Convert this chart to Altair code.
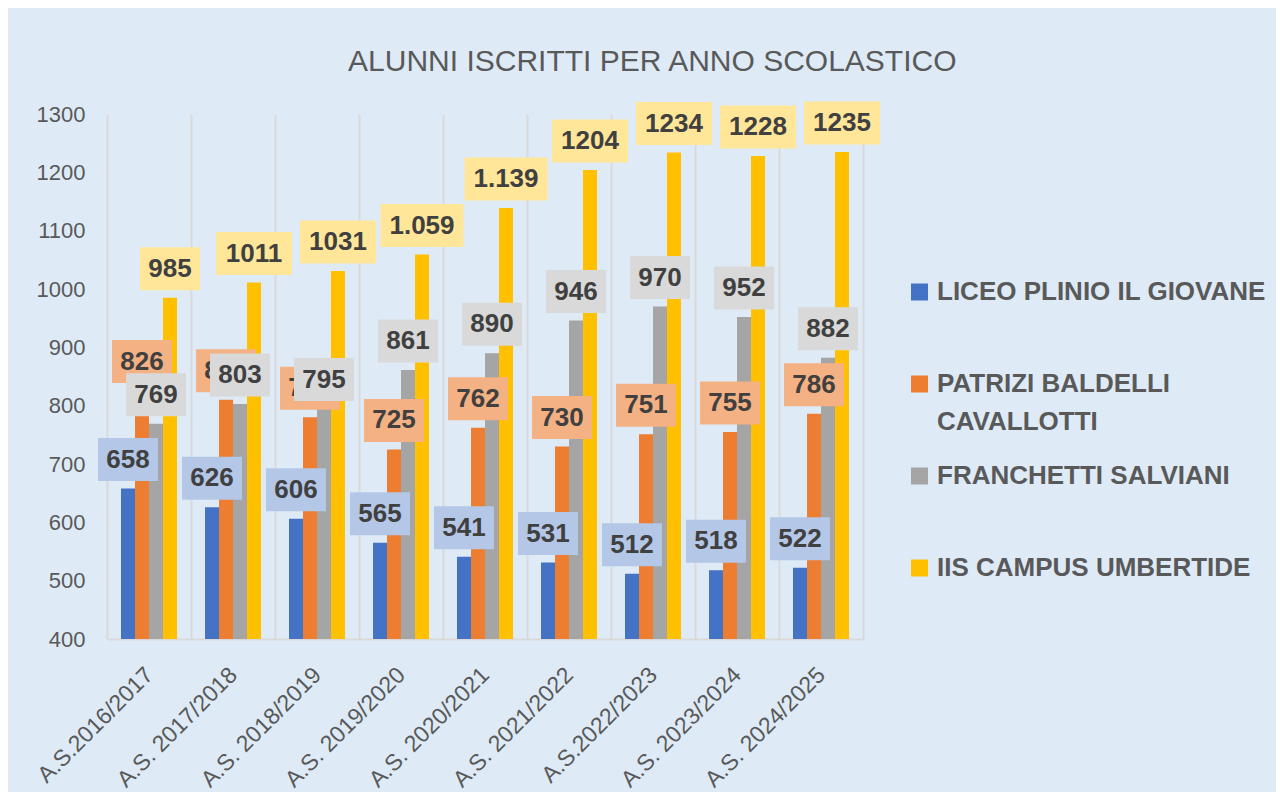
import altair as alt
import pandas as pd

FONT = "Liberation Sans"

categories = ["A.S.2016/2017", "A.S. 2017/2018", "A.S. 2018/2019", "A.S. 2019/2020",
              "A.S. 2020/2021", "A.S. 2021/2022", "A.S.2022/2023", "A.S. 2023/2024",
              "A.S. 2024/2025"]
series = ["LICEO PLINIO IL GIOVANE", "PATRIZI BALDELLI CAVALLOTTI",
          "FRANCHETTI SALVIANI", "IIS CAMPUS UMBERTIDE"]
legend_text = ["LICEO PLINIO IL GIOVANE", "PATRIZI BALDELLI\nCAVALLOTTI",
               "FRANCHETTI SALVIANI", "IIS CAMPUS UMBERTIDE"]

liceo = [658, 626, 606, 565, 541, 531, 512, 518, 522]
patrizi = [826, 810, 780, 725, 762, 730, 751, 755, 786]
franchetti = [769, 803, 795, 861, 890, 946, 970, 952, 882]
iis = [985, 1011, 1031, 1059, 1139, 1204, 1234, 1228, 1235]

liceo_labels = ["658", "626", "606", "565", "541", "531", "512", "518", "522"]
patrizi_labels = ["826", "810", "780", "725", "762", "730", "751", "755", "786"]
franchetti_labels = ["769", "803", "795", "861", "890", "946", "970", "952", "882"]
iis_labels = ["985", "1011", "1031", "1.059", "1.139", "1204", "1234", "1228", "1235"]

bar_colors = ["#4472C4", "#ED7D31", "#A5A5A5", "#FFC000"]
box_colors = ["#B4C7E7", "#F4B183", "#D9D9D9", "#FFE699"]

rows = []
for s, vals, labs in zip(series, [liceo, patrizi, franchetti, iis],
                         [liceo_labels, patrizi_labels, franchetti_labels, iis_labels]):
    for c, v, l in zip(categories, vals, labs):
        rows.append({"cat": c, "series": s, "value": v, "label": l, "nchar": str(len(l))})
df = pd.DataFrame(rows)

W, H = 756, 525
Y_MIN, Y_MAX = 400, 1300


def box_path(hw, hh):
    return f"M{-hw},{-hh}L{hw},{-hh}L{hw},{hh}L{-hw},{hh}Z"


BOX_SIZE = 76 * 76  # scale 38 px per unit
shape_scale = alt.Scale(domain=["3", "4", "5"],
                        range=[box_path(0.789, 0.566), box_path(1.0, 0.566), box_path(1.092, 0.566)])

x_enc = alt.X("cat:N", sort=categories,
              scale=alt.Scale(paddingInner=0, paddingOuter=0),
              axis=alt.Axis(title=None, labelAngle=-45, labelAlign="right", labelBaseline="middle",
                            labelFontSize=23, labelColor="#595959", labelFont=FONT, labelPadding=32,
                            ticks=False, grid=True, gridColor="#D9D9D9", gridWidth=2,
                            tickBand="extent", domainColor="#D9D9D9", domainWidth=2,
                            labelLimit=400))
xo_enc = alt.XOffset("series:N", sort=series,
                     scale=alt.Scale(domain=series, paddingInner=0, paddingOuter=1))
y_enc = alt.Y("value:Q", scale=alt.Scale(domain=[Y_MIN, Y_MAX], nice=False, zero=False),
              axis=alt.Axis(title=None, values=list(range(Y_MIN, Y_MAX + 1, 100)), format="d",
                            grid=False, domain=False, ticks=False, labelFontSize=22,
                            labelColor="#595959", labelPadding=22, labelFont=FONT))

bars = alt.Chart().mark_bar().encode(
    x=x_enc, xOffset=xo_enc, y=y_enc, y2=alt.datum(Y_MIN),
    color=alt.Color("series:N", scale=alt.Scale(domain=series, range=bar_colors), legend=None),
)

label_layers = []
for s in series:
    box = alt.Chart().mark_point(filled=True, opacity=1, size=BOX_SIZE, yOffset=-29,
                                 strokeWidth=0).encode(
        x=x_enc, xOffset=xo_enc, y=y_enc,
        fill=alt.Fill("series:N", scale=alt.Scale(domain=series, range=box_colors), legend=None),
        shape=alt.Shape("nchar:N", scale=shape_scale, legend=None),
    ).transform_filter(alt.datum.series == s)
    txt = alt.Chart().mark_text(dy=-29, font=FONT, fontSize=26, fontWeight="bold",
                                color="#404040", baseline="middle").encode(
        x=x_enc, xOffset=xo_enc, y=y_enc, text="label:N",
    ).transform_filter(alt.datum.series == s)
    label_layers += [box, txt]

main = alt.layer(bars, *label_layers, data=df).properties(width=W, height=H)

leg_df = pd.DataFrame({"series": series, "text": legend_text})
leg_y = alt.Y("series:N", sort=series,
              scale=alt.Scale(domain=series, range=[178, 454], padding=0), axis=None)
leg_sym = alt.Chart().mark_square(size=289, opacity=1, filled=True).encode(
    y=leg_y, x=alt.value(8.5),
    color=alt.Color("series:N", scale=alt.Scale(domain=series, range=bar_colors), legend=None),
)
leg_txt = alt.Chart().mark_text(align="left", baseline="middle", fontSize=26, fontWeight="bold",
                                color="#595959", lineBreak="\n", lineHeight=38, font=FONT).encode(
    y=leg_y, x=alt.value(26), text="text:N",
)
legend = alt.layer(leg_sym, leg_txt, data=leg_df).properties(width=360, height=H)

chart = alt.hconcat(main, legend, spacing=48, bounds="flush").properties(
    title=alt.TitleParams("ALUNNI ISCRITTI PER ANNO SCOLASTICO", fontSize=30, font=FONT,
                          fontWeight="normal", color="#595959", anchor="middle", offset=24),
    background="#DEEBF7",
    padding={"left": 25, "top": 39, "right": 5, "bottom": 0},
).configure_view(stroke=None)

chart.save("out.html", embed_options={"renderer": "svg", "actions": False})
